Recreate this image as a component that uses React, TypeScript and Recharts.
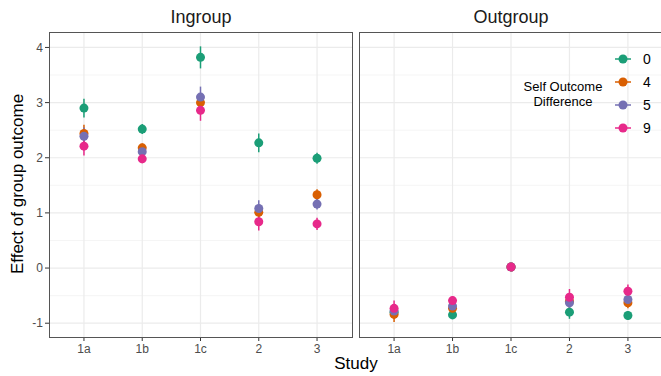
import React from 'react'
import { ScatterChart, Scatter, XAxis, YAxis, ErrorBar, ReferenceLine } from 'recharts'

const studies = ['1a', '1b', '1c', '2', '3']
const groups = ['0', '4', '5', '9']
const colors = ['#1B9E77', '#D95F02', '#7570B3', '#E7298A']

// Ingroup estimates and half-widths of the intervals
const in0 = [2.9, 2.52, 3.82, 2.27, 1.99]
const in0Err = [0.17, 0.09, 0.2, 0.17, 0.1]
const in4 = [2.44, 2.18, 3.0, 1.01, 1.33]
const in4Err = [0.16, 0.08, 0.17, 0.14, 0.1]
const in5 = [2.39, 2.11, 3.1, 1.08, 1.16]
const in5Err = [0.16, 0.08, 0.19, 0.15, 0.1]
const in9 = [2.21, 1.98, 2.86, 0.84, 0.8]
const in9Err = [0.17, 0.08, 0.19, 0.16, 0.11]

// Outgroup
const out0 = [-0.8, -0.85, 0.02, -0.8, -0.86]
const out0Err = [0.12, 0.06, 0.05, 0.12, 0.08]
const out4 = [-0.84, -0.73, 0.02, -0.6, -0.63]
const out4Err = [0.14, 0.08, 0.05, 0.12, 0.1]
const out5 = [-0.78, -0.69, 0.02, -0.63, -0.57]
const out5Err = [0.12, 0.08, 0.05, 0.12, 0.1]
const out9 = [-0.73, -0.59, 0.02, -0.53, -0.42]
const out9Err = [0.14, 0.08, 0.05, 0.15, 0.12]

const yTicks = [-1, 0, 1, 2, 3, 4]
const yMinor = [-0.5, 0.5, 1.5, 2.5, 3.5]

const FONT = '"Liberation Sans", Arial, sans-serif'

const toRows = (vals: number[], errs: number[]) =>
  vals.map((v, i) => ({ x: i + 1, y: v, err: errs[i] }))

const ingroup = [
  toRows(in0, in0Err),
  toRows(in4, in4Err),
  toRows(in5, in5Err),
  toRows(in9, in9Err),
]
const outgroup = [
  toRows(out0, out0Err),
  toRows(out4, out4Err),
  toRows(out5, out5Err),
  toRows(out9, out9Err),
]

const Dot = (color: string) => (props: any) => (
  <circle cx={props.cx} cy={props.cy} r={4.5} fill={color} />
)

function Panel({ series, showY, width }: { series: typeof ingroup; showY: boolean; width: number }) {
  return (
    <ScatterChart
      width={width}
      height={376}
      margin={{ top: 32, right: 1, left: 0, bottom: 9 }}
    >
      <XAxis
        type="number"
        dataKey="x"
        domain={[0.4, 5.6]}
        ticks={[1, 2, 3, 4, 5]}
        tickFormatter={(v: number) => studies[v - 1]}
        axisLine={false}
        tickSize={4}
        tickMargin={3}
        height={30}
        tick={{ fill: '#4D4D4D', fontSize: 12, fontFamily: FONT }}
        tickLine={{ stroke: '#333' }}
        allowDataOverflow
      />
      <YAxis
        type="number"
        dataKey="y"
        domain={[-1.25, 4.28]}
        ticks={yTicks}
        hide={!showY}
        width={49}
        axisLine={false}
        tickSize={4}
        tickMargin={2}
        tick={{ fill: '#4D4D4D', fontSize: 12, fontFamily: FONT }}
        tickLine={{ stroke: '#333' }}
        allowDataOverflow
      />
      {yMinor.map(v => (
        <ReferenceLine key={'m' + v} y={v} stroke="#F2F2F2" strokeWidth={0.8} />
      ))}
      {yTicks.map(v => (
        <ReferenceLine key={'y' + v} y={v} stroke="#EBEBEB" strokeWidth={1.2} />
      ))}
      {studies.map((s, i) => (
        <ReferenceLine key={'x' + s} x={i + 1} stroke="#EBEBEB" strokeWidth={1.2} />
      ))}
      {series.map((rows, i) => (
        <Scatter
          key={groups[i]}
          data={rows}
          fill={colors[i]}
          shape={Dot(colors[i])}
          isAnimationActive={false}
        >
          <ErrorBar dataKey="err" direction="y" width={0} stroke={colors[i]} strokeWidth={1.5} />
        </Scatter>
      ))}
    </ScatterChart>
  )
}

export default function App() {
  return (
    <div
      style={{
        position: 'absolute',
        left: 0,
        top: 0,
        width: 661,
        height: 376,
        overflow: 'hidden',
        background: '#fff',
        fontFamily: FONT,
      }}
    >
      <div style={{ position: 'absolute', left: 0, top: 0 }}>
        <Panel series={ingroup} showY width={353} />
      </div>
      <div style={{ position: 'absolute', left: 359, top: 0 }}>
        <Panel series={outgroup} showY={false} width={305} />
      </div>

      {/* panel borders */}
      <div style={{ position: 'absolute', left: 49, top: 32, width: 304, height: 306, border: '1px solid #555', boxSizing: 'border-box' }} />
      <div style={{ position: 'absolute', left: 359, top: 32, width: 306, height: 306, border: '1px solid #555', boxSizing: 'border-box' }} />

      {/* strip titles */}
      <div style={{ position: 'absolute', left: 49, top: 7, width: 304, textAlign: 'center', fontSize: 18, color: '#1A1A1A' }}>Ingroup</div>
      <div style={{ position: 'absolute', left: 359, top: 7, width: 304, textAlign: 'center', fontSize: 18, color: '#1A1A1A' }}>Outgroup</div>

      {/* axis titles */}
      <div style={{ position: 'absolute', left: 206, top: 354, width: 300, textAlign: 'center', fontSize: 17, color: '#000' }}>Study</div>
      <div
        style={{
          position: 'absolute',
          left: 18,
          top: 184,
          transform: 'translate(-50%, -50%) rotate(-90deg)',
          whiteSpace: 'nowrap',
          fontSize: 17,
          color: '#000',
        }}
      >
        Effect of group outcome
      </div>

      {/* legend */}
      <div style={{ position: 'absolute', left: 510, top: 79, width: 106, textAlign: 'center', fontSize: 13, lineHeight: '15px', color: '#000' }}>
        Self Outcome
        <br />
        Difference
      </div>
      {groups.map((g, i) => (
        <div key={g} style={{ position: 'absolute', left: 613, top: 50 + i * 23, height: 18, display: 'flex', alignItems: 'center' }}>
          <svg width={20} height={18}>
            <line x1={2} x2={18} y1={9} y2={9} stroke={colors[i]} strokeWidth={1.5} />
            <circle cx={10} cy={9} r={4.5} fill={colors[i]} />
          </svg>
          <span style={{ marginLeft: 10, fontSize: 14, color: '#000' }}>{g}</span>
        </div>
      ))}
    </div>
  )
}
